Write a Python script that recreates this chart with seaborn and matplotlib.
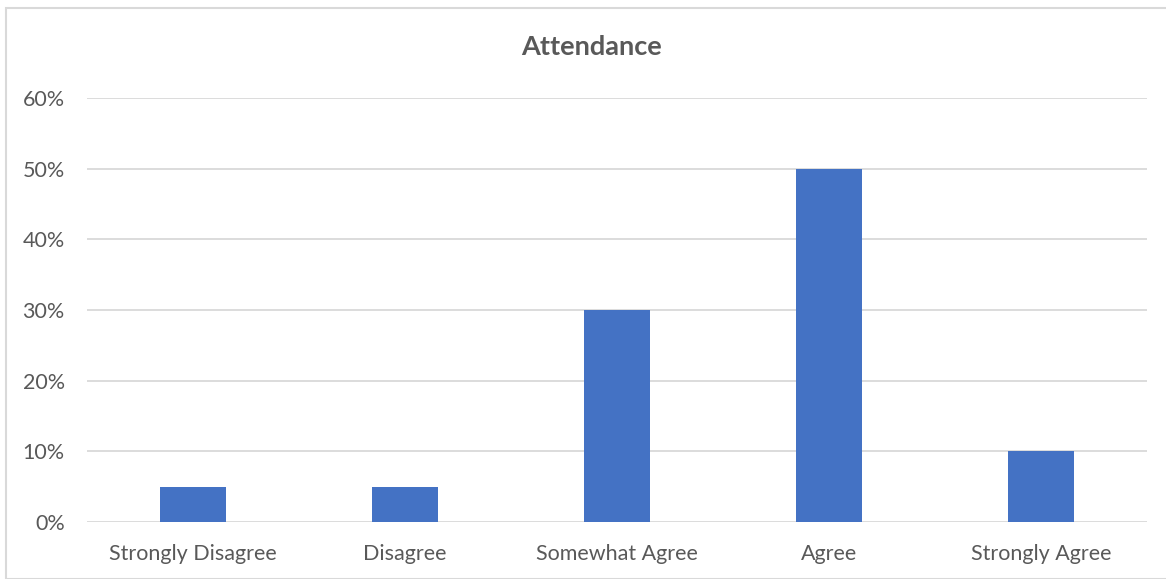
import matplotlib
matplotlib.use("Agg")
import matplotlib.pyplot as plt
import seaborn as sns
import pandas as pd
from matplotlib.patches import Rectangle
from matplotlib.ticker import PercentFormatter

categories = ["Strongly Disagree", "Disagree", "Somewhat Agree", "Agree", "Strongly Agree"]
values = [0.05, 0.05, 0.30, 0.50, 0.10]
title = "Attendance"

sns.set_theme(style="white")
plt.rcParams['font.family'] = ['Lato', 'DejaVu Sans']

W, H = 1166, 579
fig = plt.figure(figsize=(W / 100, H / 100), dpi=100)
ax = fig.add_axes([87 / W, 1 - 522 / H, (1147 - 87) / W, (522 - 98) / H])

df = pd.DataFrame({"cat": categories, "val": values})
sns.barplot(data=df, x="cat", y="val", color="#4472C4", saturation=1, width=0.316,
            linewidth=0, ax=ax)

ax.set_ylim(0, 0.6)
ax.set_xlim(-0.5, len(categories) - 0.5)
ax.set_yticks([0, 0.1, 0.2, 0.3, 0.4, 0.5, 0.6])
ax.yaxis.set_major_formatter(PercentFormatter(1.0, decimals=0))
ax.grid(axis="y", color="#D9D9D9", linewidth=1.3)
ax.set_axisbelow(True)
for s in ax.spines.values():
    s.set_visible(False)
ax.set_xlabel("")
ax.set_ylabel("")
ax.tick_params(axis="both", length=0, labelsize=15.5, labelcolor="#595959")
ax.tick_params(axis="y", pad=16)
ax.tick_params(axis="x", pad=16)

fig.text(592 / W, 1 - 47 / H, title, ha="center", va="center", fontsize=19.5,
         fontweight="bold", color="#595959")

fig.patches.append(Rectangle((5.5 / W, 0), 2, 1 - 7.5 / H, transform=fig.transFigure,
                             fill=False, edgecolor="#D9D9D9", linewidth=1.5))

fig.savefig("out.png", dpi=100)
